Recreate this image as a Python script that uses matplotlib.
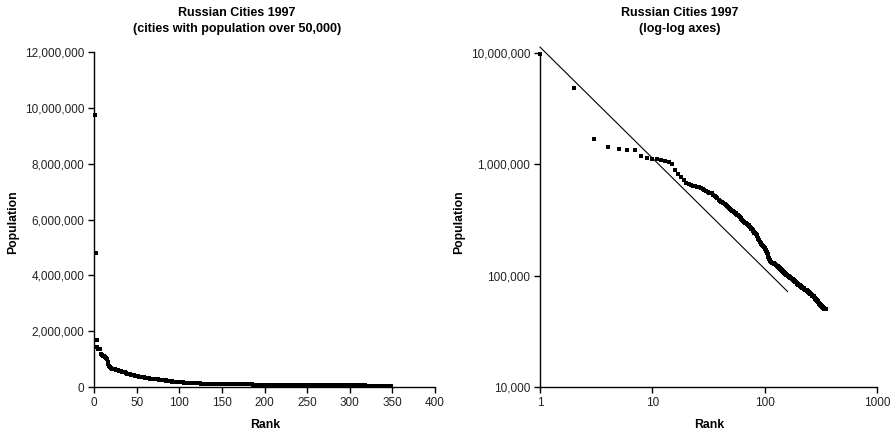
import matplotlib
matplotlib.use('Agg')
import matplotlib.pyplot as plt
from matplotlib.ticker import FuncFormatter, FixedLocator, NullLocator

plt.rcParams['font.family'] = ['Liberation Sans', 'DejaVu Sans']

# population of Russian cities 1997 by rank, in thousands
pop_k = [
    9750, 4800, 1700, 1430, 1360, 1355, 1350, 1190, 1140, 1120,
    1110, 1100, 1070, 1050, 1010, 895, 824, 769, 723, 675,
    661, 650, 642, 635, 629, 620, 610, 598, 585, 572,
    565, 558, 553, 548, 535, 522, 508, 495, 483, 472,
    462, 455, 447, 437, 428, 420, 412, 404, 396, 388,
    383, 378, 374, 369, 363, 358, 352, 348, 343, 338,
    333, 326, 319, 312, 305, 302, 299, 296, 294, 291,
    287, 283, 279, 274, 270, 265, 261, 257, 252, 248,
    244, 241, 238, 235, 232, 226, 220, 214, 208, 202,
    199, 196, 193, 190, 188, 186, 184, 182, 180, 178,
    175, 171, 167, 163, 159, 155, 151, 147, 144, 140,
    137, 135, 134, 133, 132, 131, 130, 130, 129, 129,
    128, 127, 127, 126, 125, 124, 124, 123, 122, 121,
    121, 120, 119, 118, 118, 117, 116, 115, 114, 114,
    113, 112, 111, 111, 110, 109, 108, 108, 107, 106,
    105, 104, 104, 103, 103, 102, 102, 101, 101, 100,
    100, 99, 99, 98, 98, 98, 97, 97, 96, 96,
    96, 95, 95, 94, 94, 93, 93, 93, 92, 92,
    91, 91, 90, 90, 90, 89, 89, 88, 88, 87,
    87, 87, 86, 86, 85, 85, 85, 84, 84, 83,
    83, 83, 82, 82, 82, 81, 81, 81, 80, 80,
    80, 79, 79, 79, 78, 78, 78, 78, 77, 77,
    77, 77, 76, 76, 76, 76, 75, 75, 75, 75,
    75, 74, 74, 74, 74, 74, 74, 73, 73, 73,
    73, 72, 72, 72, 72, 71, 71, 71, 71, 70,
    70, 70, 70, 69, 69, 69, 69, 68, 68, 68,
    68, 67, 67, 67, 67, 66, 66, 66, 66, 65,
    65, 65, 65, 64, 64, 64, 64, 63, 63, 63,
    63, 62, 62, 62, 62, 61, 61, 61, 61, 60,
    60, 60, 60, 59, 59, 59, 59, 58, 58, 58,
    58, 57, 57, 57, 57, 56, 56, 56, 56, 55,
    55, 55, 55, 54, 54, 54, 54, 54, 53, 53,
    53, 53, 53, 52, 52, 52, 52, 52, 51, 51,
    51, 51, 51, 51, 50.8, 50.7, 50.6, 50.5, 50.4, 50.3,
    50.3, 50.2, 50.2, 50.1, 50.1, 50.1, 50.0, 50.0,
]
population = [p * 1000 for p in pop_k]
rank = list(range(1, len(population) + 1))

# reference line on the log-log plot (end points)
line_rank = [1, 160]
line_pop = [11300000, 72000]

fig = plt.figure(figsize=(8.94, 4.33), dpi=100)

comma = FuncFormatter(lambda v, p: '{:,.0f}'.format(v))
tick_kw = dict(direction='out', length=4, width=1, labelsize=8.5, colors='black')
lab_kw = dict(fontsize=8.8, fontweight='bold')

# left: linear axes
ax1 = fig.add_axes([94 / 894, 46 / 433, 341 / 894, 335 / 433])
ax1.plot(rank, population, 's', color='black', markersize=3, markeredgewidth=0)
ax1.set_xlim(0, 400)
ax1.set_ylim(0, 12000000)
ax1.set_xticks(range(0, 401, 50))
ax1.set_yticks(range(0, 12000001, 2000000))
ax1.yaxis.set_major_formatter(comma)

# right: log-log axes
ax2 = fig.add_axes([540 / 894, 46 / 433, 337 / 894, 334 / 433])
ax2.plot(rank, population, 's', color='black', markersize=2.8, markeredgewidth=0)
ax2.plot(line_rank, line_pop, color='black', linewidth=0.8)
ax2.set_xscale('log')
ax2.set_yscale('log')
ax2.set_xlim(1, 1000)
ax2.set_ylim(10000, 10000000)
ax2.xaxis.set_major_locator(FixedLocator([1, 10, 100, 1000]))
ax2.yaxis.set_major_locator(FixedLocator([10000, 100000, 1000000, 10000000]))
ax2.xaxis.set_minor_locator(NullLocator())
ax2.yaxis.set_minor_locator(NullLocator())
ax2.xaxis.set_major_formatter(FuncFormatter(lambda v, p: '{:.0f}'.format(v)))
ax2.yaxis.set_major_formatter(comma)

for ax in (ax1, ax2):
    ax.spines['top'].set_visible(False)
    ax.spines['right'].set_visible(False)
    ax.spines['left'].set_linewidth(1)
    ax.spines['bottom'].set_linewidth(1)
    ax.tick_params(axis='both', which='major', pad=3, **tick_kw)
    for lab in ax.get_xticklabels() + ax.get_yticklabels():
        lab.set_color('#222222')
    ax.patch.set_alpha(0)

for ln in ax1.lines + ax2.lines:
    ln.set_clip_on(False)

fig.text(237 / 894, 1 - 21 / 433, 'Russian Cities 1997\n(cities with population over 50,000)',
         ha='center', va='center', fontsize=9, fontweight='bold', linespacing=1.35)
fig.text(680 / 894, 1 - 21 / 433, 'Russian Cities 1997\n(log-log axes)',
         ha='center', va='center', fontsize=9, fontweight='bold', linespacing=1.35)

fig.text(13 / 894, 1 - 222 / 433, 'Population', rotation=90, ha='center', va='center', **lab_kw)
fig.text(459 / 894, 1 - 222 / 433, 'Population', rotation=90, ha='center', va='center', **lab_kw)
fig.text(265 / 894, 1 - 425 / 433, 'Rank', ha='center', va='center', **lab_kw)
fig.text(709 / 894, 1 - 425 / 433, 'Rank', ha='center', va='center', **lab_kw)

plt.savefig('out.png', dpi=100)
